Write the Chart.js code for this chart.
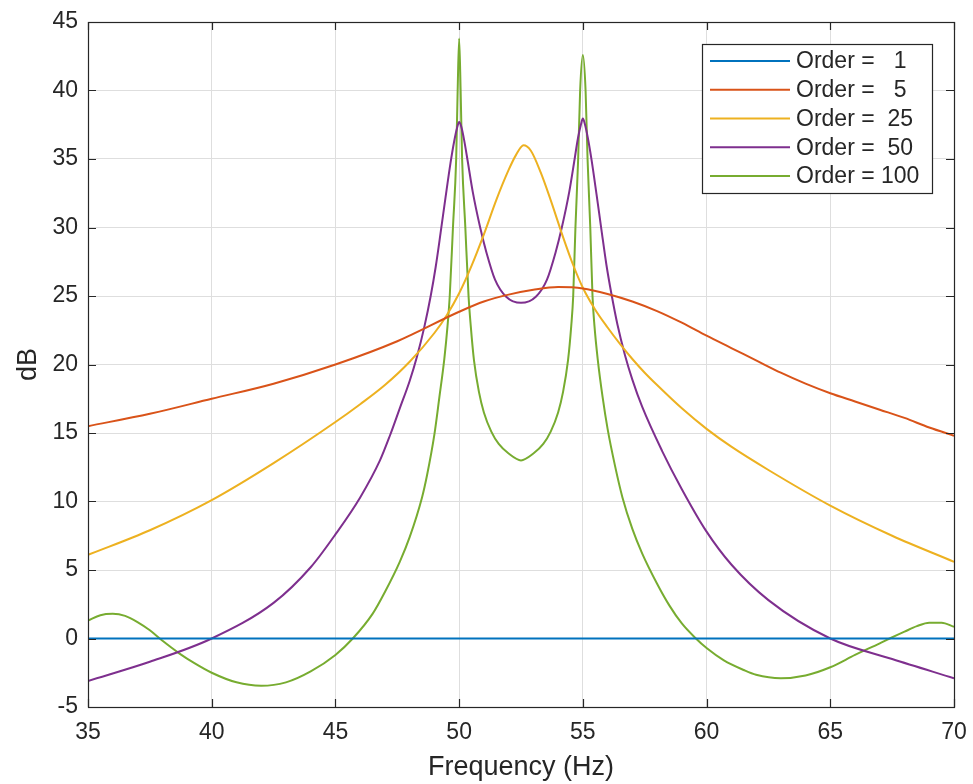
<!DOCTYPE html>
<html>
<head>
<meta charset="utf-8">
<title>Frequency response by order</title>
<script src="https://cdn.jsdelivr.net/npm/chart.js@4.4.1/dist/chart.umd.min.js"></script>
<style>
  html, body { margin: 0; padding: 0; background: #fff; }
</style>
</head>
<body>
<canvas id="myChart" width="973" height="784"></canvas>
<script>
// --- Data (Hz, dB) ---
const freq1 = [35, 70];
const db1 = [0, 0];

const freq5 = [35, 37.5, 40, 42.5, 45, 47.5, 50, 51, 52, 53, 54, 55, 56, 57, 58, 59, 60, 61, 62, 63, 64, 65, 66, 67, 68, 69, 70];
const db5 = [15.5, 16.4, 17.5, 18.6, 20.0, 21.7, 23.85, 24.6, 25.1, 25.45, 25.65, 25.55, 25.15, 24.6, 23.9, 23.05, 22.1, 21.2, 20.3, 19.4, 18.6, 17.9, 17.3, 16.7, 16.1, 15.4, 14.8];

const freq25 = [35, 37.5, 40, 42.5, 45, 46, 47, 48, 49, 49.5, 50, 50.5, 51, 51.5, 52, 52.3, 52.6, 52.9, 53.3, 53.7, 54.2, 54.6, 55, 55.5, 56, 56.5, 57, 57.5, 58, 59, 60, 61, 62.5, 65, 67.5, 70];
const db25 = [6.1, 7.9, 10.1, 12.8, 15.8, 17.1, 18.5, 20.2, 22.3, 23.6, 25.2, 27.2, 29.5, 32.0, 34.2, 35.3, 36.0, 35.6, 34.0, 32.0, 29.3, 27.3, 25.6, 24.0, 22.7, 21.5, 20.4, 19.4, 18.5, 16.8, 15.3, 14.0, 12.3, 9.7, 7.5, 5.6];

const freq50 = [35, 37.5, 40, 42.5, 44, 45, 46, 46.8, 47.2, 47.6, 48, 48.3, 48.6, 48.85, 49.05, 49.25, 49.45, 49.65, 49.8, 49.92, 50, 50.08, 50.2, 50.35, 50.55, 50.85, 51.1, 51.45, 51.9, 52.5, 53.1, 53.55, 53.9, 54.15, 54.45, 54.65, 54.8, 54.92, 55, 55.08, 55.2, 55.35, 55.55, 55.75, 55.95, 56.15, 56.4, 56.7, 57, 57.4, 58.2, 59, 60, 61, 62.5, 65, 67.5, 70];
const db50 = [-3.1, -1.7, 0, 2.6, 5.2, 7.6, 10.3, 13.0, 14.8, 16.8, 18.8, 20.6, 22.8, 25.0, 27.1, 29.6, 32.2, 34.7, 36.3, 37.3, 37.7, 37.4, 36.4, 34.8, 32.6, 30.0, 28.2, 26.2, 24.95, 24.5, 24.95, 26.2, 28.2, 30.0, 32.6, 34.8, 36.5, 37.5, 37.95, 37.55, 36.55, 34.95, 32.45, 29.85, 27.3, 25.2, 22.9, 20.7, 18.9, 16.9, 13.7, 10.9, 7.8, 5.4, 2.8, 0, -1.5, -2.9];

const freq100 = [35, 35.5, 36, 36.5, 37, 37.5, 38, 38.7, 39.3, 40, 41, 42, 43, 44, 45, 45.7, 46.5, 47, 47.6, 48, 48.5, 48.7, 49, 49.2, 49.4, 49.53, 49.62, 49.75, 49.88, 49.94, 50, 50.06, 50.12, 50.25, 50.38, 50.47, 50.6, 50.8, 51, 51.3, 51.6, 52, 52.5, 53, 53.4, 53.7, 54, 54.2, 54.4, 54.53, 54.61, 54.7, 54.81, 54.89, 55, 55.11, 55.19, 55.3, 55.39, 55.47, 55.6, 55.8, 56, 56.3, 56.6, 57, 57.4, 58, 58.5, 59, 59.57, 60, 60.7, 61.5, 62, 63, 64, 65, 66, 67, 67.4, 68, 68.5, 69, 69.5, 70];
const db100 = [1.3, 1.7, 1.8, 1.65, 1.2, 0.6, -0.15, -1.1, -1.8, -2.5, -3.2, -3.45, -3.2, -2.4, -1.2, 0, 1.8, 3.4, 5.6, 7.4, 10.3, 11.9, 14.9, 17.6, 20.4, 22.8, 25, 30, 35, 40, 43.8, 40, 35, 30, 25, 22.8, 20.3, 18.0, 16.5, 15.1, 14.2, 13.5, 13.0, 13.5, 14.2, 15.1, 16.5, 18.0, 20.3, 22.8, 25, 30, 35, 40, 42.6, 40, 35, 30, 25, 22.8, 20.4, 17.6, 15.3, 12.6, 10.3, 8.0, 6.2, 4.0, 2.4, 1.1, 0, -0.7, -1.6, -2.3, -2.65, -2.9, -2.7, -2.1, -1.2, -0.35, 0, 0.5, 0.9, 1.15, 1.15, 0.85];

const seriesLabels = ['Order =   1', 'Order =   5', 'Order =  25', 'Order =  50', 'Order = 100'];
const seriesColors = ['#0072BD', '#D95319', '#EDB120', '#7E2F8E', '#77AC30'];

const xTicks = [35, 40, 45, 50, 55, 60, 65, 70];
const yTicks = [-5, 0, 5, 10, 15, 20, 25, 30, 35, 40, 45];

// --- Style ---
const FONT = "'Liberation Sans', Arial, sans-serif";
const AXIS_COLOR = '#262626';
const GRID_COLOR = '#dedede';

function toPoints(xs, ys) {
    return xs.map((x, i) => ({ x: x, y: ys[i] }));
}

const seriesData = [
    toPoints(freq1, db1),
    toPoints(freq5, db5),
    toPoints(freq25, db25),
    toPoints(freq50, db50),
    toPoints(freq100, db100)
];

// box round the axes and inward ticks on all four sides
const matlabAxes = {
    id: 'matlabAxes',
    afterDatasetsDraw(chart) {
        const { ctx, chartArea: a, scales } = chart;
        const tickLen = 8;
        ctx.save();
        ctx.strokeStyle = AXIS_COLOR;
        ctx.lineWidth = 1.2;
        ctx.beginPath();
        scales.x.ticks.forEach(t => {
            const px = Math.round(scales.x.getPixelForValue(t.value)) + 0.5;
            ctx.moveTo(px, a.bottom); ctx.lineTo(px, a.bottom - tickLen);
            ctx.moveTo(px, a.top); ctx.lineTo(px, a.top + tickLen);
        });
        scales.y.ticks.forEach(t => {
            const py = Math.round(scales.y.getPixelForValue(t.value)) + 0.5;
            ctx.moveTo(a.left, py); ctx.lineTo(a.left + tickLen, py);
            ctx.moveTo(a.right, py); ctx.lineTo(a.right - tickLen, py);
        });
        ctx.stroke();
        ctx.strokeRect(Math.round(a.left) + 0.5, Math.round(a.top) + 0.5,
            Math.round(a.right - a.left), Math.round(a.bottom - a.top));
        ctx.restore();
    }
};

// legend box in the upper right corner
const boxLegend = {
    id: 'boxLegend',
    afterDraw(chart) {
        const ctx = chart.ctx;
        const box = { x: 702, y: 44, w: 230, h: 149 };
        const rowH = 28.75;
        ctx.save();
        ctx.fillStyle = '#fff';
        ctx.fillRect(box.x, box.y, box.w, box.h);
        ctx.strokeStyle = AXIS_COLOR;
        ctx.lineWidth = 1.2;
        ctx.strokeRect(box.x + 0.5, box.y + 0.5, box.w, box.h);
        ctx.font = '23px ' + FONT;
        ctx.textBaseline = 'middle';
        ctx.fillStyle = AXIS_COLOR;
        chart.data.datasets.forEach((ds, i) => {
            const cy = box.y + 17 + i * rowH;
            ctx.strokeStyle = ds.borderColor;
            ctx.lineWidth = 2;
            ctx.beginPath();
            ctx.moveTo(box.x + 8, cy);
            ctx.lineTo(box.x + 88, cy);
            ctx.stroke();
            ctx.fillText(ds.label, box.x + 94, cy + 1);
        });
        ctx.restore();
    }
};

const ctx = document.getElementById('myChart').getContext('2d');
new Chart(ctx, {
    type: 'line',
    data: {
        datasets: seriesData.map((pts, i) => ({
            label: seriesLabels[i],
            data: pts,
            borderColor: seriesColors[i],
            backgroundColor: seriesColors[i],
            borderWidth: 2,
            pointRadius: 0,
            fill: false,
            cubicInterpolationMode: 'monotone'
        }))
    },
    options: {
        responsive: false,
        animation: false,
        devicePixelRatio: 1,
        layout: { padding: { left: 0, right: 19, top: 22, bottom: 0 } },
        plugins: { legend: { display: false }, tooltip: { enabled: false } },
        scales: {
            x: {
                type: 'linear',
                min: 35,
                max: 70,
                afterBuildTicks: s => { s.ticks = xTicks.map(v => ({ value: v })); },
                afterFit: s => { s.height = 77; s.paddingLeft = 0; s.paddingRight = 0; },
                ticks: { color: AXIS_COLOR, font: { family: FONT, size: 23 }, padding: 12, maxRotation: 0 },
                grid: { color: GRID_COLOR, drawTicks: false },
                border: { display: false },
                title: { display: true, text: 'Frequency (Hz)', color: AXIS_COLOR, font: { family: FONT, size: 27 }, padding: { top: 0, bottom: 0 } }
            },
            y: {
                type: 'linear',
                min: -5,
                max: 45,
                afterBuildTicks: s => { s.ticks = yTicks.map(v => ({ value: v })); },
                afterFit: s => { s.width = 88; s.paddingTop = 0; s.paddingBottom = 0; },
                ticks: { color: AXIS_COLOR, font: { family: FONT, size: 23 }, padding: 10 },
                grid: { color: GRID_COLOR, drawTicks: false },
                border: { display: false },
                title: { display: true, text: 'dB', color: AXIS_COLOR, font: { family: FONT, size: 27 }, padding: { top: 12, bottom: 0 } }
            }
        }
    },
    plugins: [matlabAxes, boxLegend]
});
</script>
</body>
</html>
